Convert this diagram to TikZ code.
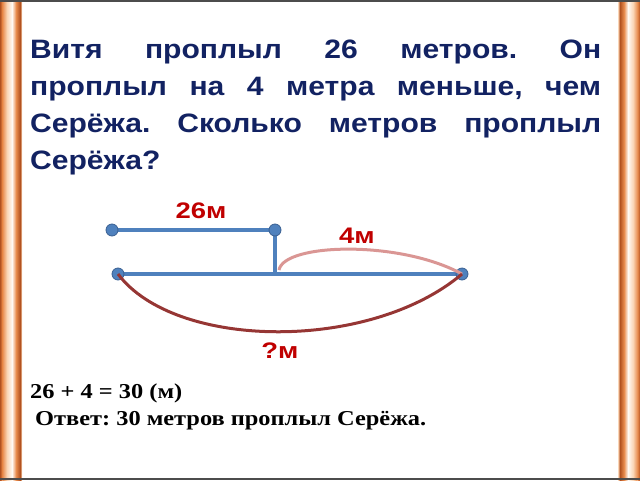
\documentclass[tikz,border=0pt]{standalone}
\usepackage{fontspec}
\setmainfont{Liberation Serif}
\setsansfont{Liberation Sans}
\newfontfamily\widesans[FakeStretch=1.13]{Liberation Sans}
\newfontfamily\wideserif[FakeStretch=1.15]{Liberation Serif}
\newfontfamily\labelsans[FakeStretch=1.22]{Liberation Sans}
\frenchspacing
\usetikzlibrary{positioning,backgrounds}

\definecolor{taskblue}{RGB}{18,34,98}
\definecolor{labelred}{RGB}{192,0,0}
\definecolor{segblue}{RGB}{79,129,189}
\definecolor{dotedge}{RGB}{58,96,146}
\definecolor{arcpink}{RGB}{218,150,148}
\definecolor{arcred}{RGB}{150,54,52}
\definecolor{frdark}{RGB}{178,82,32}
\definecolor{frmid}{RGB}{232,140,78}
\definecolor{frlight}{RGB}{250,214,182}
\definecolor{frwhite}{RGB}{255,250,244}

\tikzset{
  segdot/.style={circle, fill=segblue, draw=dotedge, line width=0.8pt, minimum size=12pt, inner sep=0pt},
  seg/.style={segblue, line width=4pt},
  lbl/.style={font=\labelsans\bfseries\fontsize{22.5}{26}\selectfont, text=labelred, inner sep=0pt},
  task/.style={anchor=base west, inner sep=0pt, font=\widesans\bfseries\fontsize{26.6}{30}\selectfont, text=taskblue},
  sol/.style={anchor=base west, inner sep=0pt, font=\wideserif\bfseries\fontsize{21.2}{25}\selectfont},
}

\begin{document}
\begin{tikzpicture}[x=1pt,y=-1pt]
		\useasboundingbox (0,0) rectangle (640,480);
		
		%frame
		\foreach \xa/\xb/\ca/\cb in {0/2.5/frdark/frmid, 2.5/7/frmid/frlight, 7/12/frlight/frwhite, 12/16/frwhite/frmid, 16/20/frmid/frdark, 20/22/frdark/frlight}{
			\shade[left color=\ca, right color=\cb] (\xa,0) rectangle (\xb,480);
			\shade[left color=\cb, right color=\ca] (640-\xb,0) rectangle (640-\xa,480);
		}
		\draw[gray!60!black, line width=1.5pt] (0,0.75) -- (640,0.75);
		\draw[gray!60!black, line width=2pt] (0,479) -- (640,479);
		
		%task
		\node[task] (t1) at (30,58) {\makebox[571pt][s]{Витя проплыл 26 метров. Он}};
		\node[task] (t2) at (30,95) {\makebox[571pt][s]{проплыл на 4 метра меньше, чем}};
		\node[task] (t3) at (30,132) {\makebox[571pt][s]{Серёжа. Сколько метров проплыл}};
		\node[task] (t4) at (30,169) {Серёжа?};
		
		%segments
		\node[segdot] (a1) at (112,230) {};
		\node[segdot] (a2) at (275,230) {};
		\node[segdot] (b1) at (118,274) {};
		\node[segdot] (b2) at (462,274) {};
		\coordinate (j) at (a2.center |- b1.center);
		\begin{scope}[on background layer]
			\draw[seg] (a1.center) -- (a2.center);
			\draw[seg] (b1.center) -- (b2.center);
			\draw[seg] (a2.center) -- (j);
		\end{scope}
		
		%arcs
		\coordinate [above right = 4pt and 4pt of j] (p1);
		\draw[arcpink, line width=3pt] (p1) .. controls (284,243) and (400,240) .. (b2.center);
		\draw[arcred, line width=3pt] (b1.center) .. controls (175,350) and (370,352) .. (b2.center);
		
		\node[lbl] (l26) at (201,211) {26м};
		\node[lbl] (l4) at (357,236) {4м};
		\node[lbl] (lq) at (280,351) {?м};
		
		%solution
		\node[sol] (s1) at (30,398) {26 + 4 = 30 (м)};
		\node[sol] (s2) at (35,425) {Ответ: 30 метров проплыл Серёжа.};
\end{tikzpicture}
\end{document}
